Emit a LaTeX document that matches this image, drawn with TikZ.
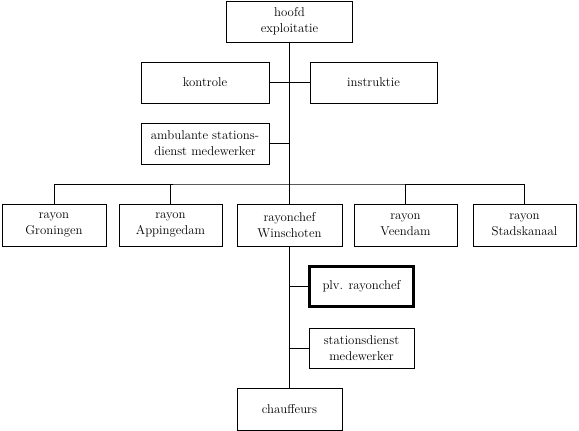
\documentclass[tikz,border=0pt]{standalone}
\begin{document}
\begin{tikzpicture}[x=1pt,y=-1pt,
  box/.style={draw, line width=1pt, align=center, inner sep=0pt,
    font=\fontsize{12.8}{16}\selectfont, minimum width=104pt, minimum height=41pt},
  thickbox/.style={box, line width=3.2pt},
  conn/.style={line width=1pt}]
\useasboundingbox (0,0) rectangle (579,431);
\node[box, minimum width=126pt] (hoofd) at (289.5,21.5) {hoofd\\exploitatie};
\node[box, minimum width=128pt] (kontrole) at (205,82.5) {kontrole};
\node[box, minimum width=127pt] (instruktie) at (373.5,82.5) {instruktie};
\node[box, minimum width=128pt] (ambulante) at (205,143.5) {ambulante stations-\\dienst medewerker};
\node[box, minimum height=42pt] (groningen) at (54,225) {rayon\\Groningen};
\node[box, minimum height=42pt, minimum width=103pt] (appingedam) at (170.5,225) {rayon\\Appingedam};
\node[box, minimum height=42pt, minimum width=105pt] (winschoten) at (289.5,225) {rayonchef\\Winschoten};
\node[box, minimum height=42pt, minimum width=103pt] (veendam) at (405.5,225) {rayon\\Veendam};
\node[box, minimum height=42pt, minimum width=103pt] (stadskanaal) at (524.5,225) {rayon\\Stadskanaal};
\node[thickbox, minimum width=104pt, minimum height=40pt] (plv) at (361.5,286.5) {plv. rayonchef};
\node[box, minimum width=105pt, minimum height=40pt] (stations) at (361.5,348) {stationsdienst\\medewerker};
\node[box, minimum width=105pt, minimum height=42pt] (chauffeurs) at (289.5,409) {chauffeurs};
\coordinate (bus) at (289.5,184);
\draw[conn] (hoofd.south) -- (bus);
\draw[conn] (kontrole.east) -- (instruktie.west);
\draw[conn] (ambulante.east) -- (ambulante.east -| hoofd.south);
\draw[conn] (groningen.north) |- (bus) -| (stadskanaal.north);
\draw[conn] (appingedam.north) -- (appingedam.north |- bus);
\draw[conn] (winschoten.north) -- (bus);
\draw[conn] (veendam.north) -- (veendam.north |- bus);
\draw[conn] (winschoten.south) -- (chauffeurs.north);
\draw[conn] (plv.west) -- (plv.west -| winschoten.south);
\draw[conn] (stations.west) -- (stations.west -| winschoten.south);
\end{tikzpicture}
\end{document}
